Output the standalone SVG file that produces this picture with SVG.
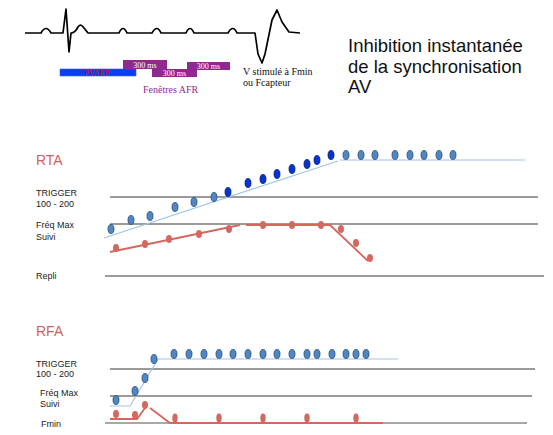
<svg xmlns="http://www.w3.org/2000/svg" width="553" height="435" viewBox="0 0 553 435">
<style>
.ecg{fill:none;stroke:#000;stroke-width:1.7;stroke-linejoin:round}
.grid{stroke:#7a7a7a;stroke-width:1.3;fill:none}
.lb{stroke:#9fc4e6;stroke-width:1.2;fill:none}
.lr{stroke:#d4685f;stroke-width:1.8;fill:none}
.bd{fill:#4f86c4;stroke:#2c4e74;stroke-width:0.8}
.dd{fill:#0533d6;stroke:#0a1f70;stroke-width:0.8}
.rd{fill:#d4685f}
.lab{font-family:"Liberation Sans",Arial,sans-serif;font-size:9px;fill:#222}
.sec{font-family:"Liberation Sans",Arial,sans-serif;font-size:14px;fill:#d2625c}
.title{font-family:"Liberation Sans",Arial,sans-serif;font-size:18.5px;fill:#111}
.ser{font-family:"Liberation Serif","Times New Roman",serif}
</style>

<g id="ecg">
<path class="ecg" d="M25,33 L41,33 Q46,24 51,33 L63,33 L66,9 L69,52 L71,33 Q75,33 78,27 Q81,23 84,28 L88,33 L105,33 L119,33 Q123,24 127,33 L152,33 Q157,24 161,33 L186,33 Q190,24 194,33 L228,33 Q233,24 237,33 L255,33 L258,54 L262,63 L265,54 L272,20 L277,10 L282,22 L289,32 L300,33"/>
</g>

<g id="pvarp">
<rect x="60" y="69" width="76" height="7" fill="#0a3ef0" stroke="#3a5cff" stroke-width="0.6"/>
<text x="97" y="75.5" class="ser" font-size="8" fill="#d01010" text-anchor="middle">PVARP</text>
</g>
<g id="afr1">
<rect x="123" y="60" width="44" height="9" fill="#8e2a8e"/>
<text x="145" y="67.5" class="ser" font-size="8" fill="#fff" text-anchor="middle">300 ms</text>
</g>
<g id="afr2">
<rect x="152" y="69" width="45" height="8" fill="#8e2a8e"/>
<text x="174.5" y="76" class="ser" font-size="8" fill="#fff" text-anchor="middle">300 ms</text>
</g>
<g id="afr3">
<rect x="187" y="62" width="43" height="8" fill="#8e2a8e"/>
<text x="208.5" y="69" class="ser" font-size="8" fill="#fff" text-anchor="middle">300 ms</text>
</g>
<text x="143" y="93" class="ser" font-size="10" fill="#8e2a8e">Fenêtres AFR</text>
<text x="243" y="75" class="ser" font-size="10" fill="#111">V stimulé à Fmin</text>
<text x="243" y="86" class="ser" font-size="10" fill="#111">ou Fcapteur</text>

<g id="title">
<text x="348" y="52" class="title">Inhibition instantanée</text>
<text x="348" y="72.5" class="title">de la synchronisation</text>
<text x="348" y="93" class="title">AV</text>
</g>

<g id="rta-labels">
<text x="36" y="165" class="sec">RTA</text>
<text x="36" y="196" class="lab">TRIGGER</text>
<text x="36" y="207" class="lab" font-size="8">100 - 200</text>
<text x="36" y="228" class="lab" font-size="8">Fréq Max</text>
<text x="36" y="240" class="lab">Suivi</text>
<text x="36" y="279" class="lab">Repli</text>
</g>

<g id="connectors">
<line class="grid" x1="110" y1="197" x2="538" y2="197"/>
<line class="grid" x1="110" y1="224" x2="538" y2="224"/>
<line class="grid" x1="105" y1="276" x2="544" y2="276"/>
<polyline class="lb" points="104,238 338,161"/>
<line class="lb" x1="340" y1="160" x2="525" y2="160"/>
<polyline class="lr" points="110,252 240,225"/>
<polyline class="lr" points="246,225 330,225 368,261"/>

<line class="grid" x1="110" y1="369" x2="535" y2="369"/>
<line class="grid" x1="110" y1="396" x2="532" y2="396"/>
<line x1="105" y1="423" x2="527" y2="423" stroke="#a8a8a8" stroke-width="2"/>
<polyline class="lb" points="110,406 130,406 158,359 398,359"/>
<polyline class="lr" points="110,419 137,419 145,408"/>
<polyline class="lr" points="150,408 170,423 383,423"/>
</g>

<g id="rta-dots">
<ellipse class="bd" cx="111" cy="229" rx="3" ry="4.5"/>
<ellipse class="bd" cx="131" cy="220" rx="3" ry="4.5"/>
<ellipse class="bd" cx="150" cy="216" rx="3" ry="4.5"/>
<ellipse class="bd" cx="175" cy="207" rx="3" ry="4.5"/>
<ellipse class="bd" cx="194" cy="202" rx="3" ry="4.5"/>
<ellipse class="bd" cx="214" cy="197" rx="3" ry="4.5"/>
<ellipse class="dd" cx="228" cy="192" rx="3" ry="4.5"/>
<ellipse class="dd" cx="248" cy="183" rx="3" ry="4.5"/>
<ellipse class="dd" cx="263" cy="179" rx="3" ry="4.5"/>
<ellipse class="dd" cx="277" cy="174" rx="3" ry="4.5"/>
<ellipse class="dd" cx="292" cy="169" rx="3" ry="4.5"/>
<ellipse class="dd" cx="307" cy="164" rx="3" ry="4.5"/>
<ellipse class="dd" cx="317" cy="160" rx="3" ry="4.5"/>
<ellipse class="dd" cx="331" cy="155" rx="3" ry="4.5"/>
<ellipse class="bd" cx="346" cy="155" rx="3" ry="4.5"/>
<ellipse class="bd" cx="361" cy="155" rx="3" ry="4.5"/>
<ellipse class="bd" cx="375" cy="155" rx="3" ry="4.5"/>
<ellipse class="bd" cx="395" cy="155" rx="3" ry="4.5"/>
<ellipse class="bd" cx="410" cy="155" rx="3" ry="4.5"/>
<ellipse class="bd" cx="424" cy="155" rx="3" ry="4.5"/>
<ellipse class="bd" cx="439" cy="155" rx="3" ry="4.5"/>
<ellipse class="bd" cx="453" cy="155" rx="3" ry="4.5"/>

<ellipse class="rd" cx="116" cy="248" rx="3" ry="4"/>
<ellipse class="rd" cx="145" cy="244" rx="3" ry="4"/>
<ellipse class="rd" cx="169" cy="239" rx="3" ry="4"/>
<ellipse class="rd" cx="199" cy="234" rx="3" ry="4"/>
<ellipse class="rd" cx="229" cy="229" rx="3" ry="4"/>
<ellipse class="rd" cx="263" cy="225" rx="3" ry="4"/>
<ellipse class="rd" cx="292" cy="225" rx="3" ry="4"/>
<ellipse class="rd" cx="321" cy="225" rx="3" ry="4"/>
<ellipse class="rd" cx="341" cy="229" rx="3" ry="4"/>
<ellipse class="rd" cx="356" cy="243" rx="3" ry="4"/>
<ellipse class="rd" cx="370" cy="258" rx="3" ry="4"/>
</g>

<g id="rfa-labels">
<text x="36" y="336" class="sec">RFA</text>
<text x="36" y="367" class="lab">TRIGGER</text>
<text x="36" y="377" class="lab" font-size="8">100 - 200</text>
<text x="40" y="396" class="lab">Fréq Max</text>
<text x="40" y="407" class="lab">Suivi</text>
<text x="41" y="427" class="lab">Fmin</text>
</g>

<g id="rfa-dots">
<ellipse class="bd" cx="116" cy="400" rx="3" ry="4.5"/>
<ellipse class="bd" cx="135" cy="391" rx="3" ry="4.5"/>
<ellipse class="bd" cx="145" cy="378" rx="3" ry="4.5"/>
<ellipse class="bd" cx="154" cy="359" rx="3" ry="4.5"/>
<ellipse class="bd" cx="174" cy="354" rx="3" ry="4.5"/>
<ellipse class="bd" cx="189" cy="354" rx="3" ry="4.5"/>
<ellipse class="bd" cx="204" cy="354" rx="3" ry="4.5"/>
<ellipse class="bd" cx="219" cy="354" rx="3" ry="4.5"/>
<ellipse class="bd" cx="233" cy="354" rx="3" ry="4.5"/>
<ellipse class="bd" cx="248" cy="354" rx="3" ry="4.5"/>
<ellipse class="bd" cx="263" cy="354" rx="3" ry="4.5"/>
<ellipse class="bd" cx="277" cy="354" rx="3" ry="4.5"/>
<ellipse class="bd" cx="292" cy="354" rx="3" ry="4.5"/>
<ellipse class="bd" cx="307" cy="354" rx="3" ry="4.5"/>
<ellipse class="bd" cx="317" cy="354" rx="3" ry="4.5"/>
<ellipse class="bd" cx="332" cy="354" rx="3" ry="4.5"/>
<ellipse class="bd" cx="346" cy="354" rx="3" ry="4.5"/>
<ellipse class="bd" cx="356" cy="354" rx="3" ry="4.5"/>
<ellipse class="bd" cx="366" cy="354" rx="3" ry="4.5"/>

<ellipse class="rd" cx="116" cy="414" rx="3" ry="4"/>
<ellipse class="rd" cx="135" cy="415" rx="3" ry="4"/>
<ellipse class="rd" cx="145" cy="405" rx="3" ry="4"/>
<ellipse class="rd" cx="175" cy="418" rx="2.7" ry="4.5"/>
<ellipse class="rd" cx="219" cy="418" rx="2.7" ry="4.5"/>
<ellipse class="rd" cx="263" cy="418" rx="2.7" ry="4.5"/>
<ellipse class="rd" cx="307" cy="418" rx="2.7" ry="4.5"/>
<ellipse class="rd" cx="356" cy="418" rx="2.7" ry="4.5"/>
</g>
</svg>
